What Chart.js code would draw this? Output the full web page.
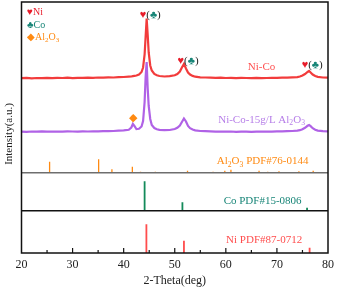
<!DOCTYPE html>
<html>
<head>
<meta charset="utf-8">
<script src="https://cdn.jsdelivr.net/npm/chart.js@4.4.1/dist/chart.umd.min.js"></script>
<style>
  html, body { margin: 0; padding: 0; background: #fff; }
  #wrap { width: 339px; height: 288px; }
</style>
</head>
<body>
<div id="wrap"><canvas id="myChart" width="339" height="288"></canvas></div>
<script>
// 2-theta grid shared by the two measured patterns
var twoTheta = [20,21,22,23,24,25,26,27,28,29,30,31,32,33,34,35,36,37,38,39,40,41,
	41.5,41.8,42.1,42.5,43,43.5,43.8,44.1,44.3,44.5,44.7,44.9,45.2,45.5,46,46.5,47,
	48,49,50,
	50.5,51,51.4,51.8,52.2,52.6,53,53.5,54,
	55,56,57,58,59,60,61,62,63,64,65,66,67,68,69,70,71,72,73,74,
	74.5,75,75.5,76,76.3,76.6,77,77.5,78,
	79,80];

// intensity above each pattern's own baseline (a.u.)
var niCo = [0.3,0.6,0.2,0.5,0.4,0.7,0.3,0.6,0.5,0.8,0.4,0.7,0.6,0.9,0.7,1.0,0.8,1.1,1.0,1.3,1.5,1.8,
	2.0,2.3,2.6,3.0,4.0,6.5,11,24,42,60,44,26,13,8,4.5,3.2,2.5,
	2.0,2.3,3.2,
	4.5,7,11,14.5,10,6,4,2.6,1.8,
	1.2,1.0,0.9,0.6,0.8,0.5,0.7,0.4,0.6,0.5,0.3,0.6,0.4,0.5,0.7,0.6,0.8,0.9,1.1,1.4,
	2.0,3,4.5,6.5,7.5,6,4,2.5,1.6,
	1.0,0.8];

var niCoAl2O3 = [0.4,0.2,0.5,0.3,0.6,0.4,0.3,0.5,0.4,0.6,0.5,0.3,0.6,0.5,0.7,0.6,0.8,0.9,1.0,1.3,1.6,2.2,
	4.5,8,6,3,3.2,5.5,11,30,55,70,44,26,13,7,4,2.8,2.2,
	1.8,2.0,3.0,
	4.2,6.5,10,13.5,10.5,6,3.8,2.5,1.6,
	1.0,0.8,0.6,0.4,0.5,0.3,0.5,0.2,0.4,0.3,0.2,0.4,0.3,0.5,0.4,0.6,0.7,0.8,1.0,1.3,
	1.8,2.8,4.2,6.2,7,5.8,3.8,2.3,1.4,
	0.8,0.6];

// reference cards
var al2o3Pos = [25.5,35.1,37.7,41.7,43.3,46.2,52.5,57.5,59.8,61.0,66.5,68.2,70.4,74.3,77.1];
var al2o3Int = [11,13.5,3.5,6,1,1,2,1,2,3,2,1,1.5,1.5,2];
var coPos = [44.1,51.5,75.9];
var coInt = [29.5,8.5,3];
var niPos = [44.45,51.8,76.4];
var niInt = [28.7,12.3,5.3];

var xTicks = [20,30,40,50,60,70,80];

// vertical stacking (y axis is 0..251)
var base = { niCo: 174.5, niCoAl: 121, al: 80.3, co: 42.3, ni: 0 };

var RED = '#f23c3c', PURPLE = '#b062e6', ORANGE = '#ff8a12', TEAL = '#178577', GREEN = '#138a5a', NIRED = '#ff4d4d';
var SERIF = '"Liberation Serif", "Times New Roman", serif';

function curve(vals, off) {
	return twoTheta.map(function (x, i) { return { x: x, y: vals[i] + off }; });
}
function sticks(pos, ints, off) {
	var d = [];
	pos.forEach(function (p, i) {
		d.push({ x: p, y: off });
		d.push({ x: p, y: off + ints[i] });
		d.push({ x: p, y: null });
	});
	return d;
}

// text placed in data coordinates: [2theta, y, parts, color, align]
// parts: [text, isSubscript, colorOverride]
var notes = [
	[45.2, 238, [['♥', 0, '#e81c2a'], ['(', 0, '#222'], ['♣', 0, TEAL], [')', 0, '#222']], null, 'center'],
	[52.6, 192, [['♥', 0, '#e81c2a'], ['(', 0, '#222'], ['♣', 0, TEAL], [')', 0, '#222']], null, 'center'],
	[76.9, 188, [['♥', 0, '#e81c2a'], ['(', 0, '#222'], ['♣', 0, TEAL], [')', 0, '#222']], null, 'center'],
	[41.8, 135, [['◆', 0, ORANGE]], null, 'center'],
	[67.0, 186, [['Ni-Co', 0]], '#ff5050', 'center'],
	[67.0, 133, [['Ni-Co-15g/L Al', 0], ['2', 1], ['O', 0], ['3', 1]], '#b67ee8', 'center'],
	[67.2, 91.5, [['Al', 0], ['2', 1], ['O', 0], ['3', 1], [' PDF#76-0144', 0]], ORANGE, 'center'],
	[67.2, 52, [['Co PDF#15-0806', 0]], TEAL, 'center'],
	[67.5, 12.5, [['Ni PDF#87-0712', 0]], NIRED, 'center']
];

function partsWidth(ctx, parts, size) {
	var w = 0;
	parts.forEach(function (p) {
		ctx.font = (p[1] ? size * 0.7 : size) + 'px ' + SERIF;
		w += ctx.measureText(p[0]).width;
	});
	return w;
}
function drawParts(ctx, parts, x, y, size, color, align) {
	var w = partsWidth(ctx, parts, size);
	var cx = align === 'center' ? x - w / 2 : x;
	ctx.textBaseline = 'middle';
	ctx.textAlign = 'left';
	parts.forEach(function (p) {
		ctx.font = (p[1] ? size * 0.7 : size) + 'px ' + SERIF;
		ctx.fillStyle = p[2] || color;
		ctx.fillText(p[0], cx, p[1] ? y + size * 0.3 : y);
		cx += ctx.measureText(p[0]).width;
	});
}

var framePlugin = {
	id: 'frame',
	afterDatasetsDraw: function (chart) {
		var ctx = chart.ctx, a = chart.chartArea;
		var xs = chart.scales.x, ys = chart.scales.y;
		ctx.save();
		// panel separators
		ctx.lineWidth = 1.5;
		ctx.strokeStyle = '#6e6e6e';
		ctx.beginPath();
		ctx.moveTo(a.left, ys.getPixelForValue(base.al));
		ctx.lineTo(a.right, ys.getPixelForValue(base.al));
		ctx.stroke();
		ctx.strokeStyle = '#111';
		ctx.beginPath();
		ctx.moveTo(a.left, ys.getPixelForValue(base.co));
		ctx.lineTo(a.right, ys.getPixelForValue(base.co));
		ctx.stroke();
		// frame
		ctx.lineWidth = 1.5;
		ctx.strokeRect(a.left, a.top, a.right - a.left, a.bottom - a.top);
		// inward ticks
		ctx.lineWidth = 1.2;
		for (var t = 25; t < 80; t += 5) {
			var px = xs.getPixelForValue(t);
			var len = (t % 10 === 0) ? 5 : 3;
			ctx.beginPath();
			ctx.moveTo(px, a.bottom);
			ctx.lineTo(px, a.bottom - len);
			ctx.stroke();
		}
		// notes
		notes.forEach(function (n) {
			drawParts(ctx, n[2], xs.getPixelForValue(n[0]), ys.getPixelForValue(n[1]), 11, n[3], n[4]);
		});
		// legend
		drawParts(ctx, [['♥', 0], ['Ni', 0]], 27, 12, 10, '#e81c2a', 'left');
		drawParts(ctx, [['♣', 0], ['Co', 0]], 27, 25, 10, TEAL, 'left');
		drawParts(ctx, [['◆', 0], ['Al', 0], ['2', 1], ['O', 0], ['3', 1]], 27, 37, 10, ORANGE, 'left');
		// y title
		ctx.translate(9, 134);
		ctx.rotate(-Math.PI / 2);
		ctx.font = '11px ' + SERIF;
		ctx.fillStyle = '#222';
		ctx.textAlign = 'center';
		ctx.textBaseline = 'middle';
		ctx.fillText('Intensity(a.u.)', 0, 0);
		ctx.restore();
	}
};

var config = {
	type: 'line',
	data: {
		datasets: [
			{ data: curve(niCo, base.niCo), borderColor: RED, borderWidth: 2.2 },
			{ data: curve(niCoAl2O3, base.niCoAl), borderColor: PURPLE, borderWidth: 2.2 },
			{ data: sticks(al2o3Pos, al2o3Int, base.al), borderColor: ORANGE, borderWidth: 1.3 },
			{ data: sticks(coPos, coInt, base.co), borderColor: GREEN, borderWidth: 1.8 },
			{ data: sticks(niPos, niInt, base.ni), borderColor: NIRED, borderWidth: 1.8 }
		]
	},
	options: {
		responsive: false,
		animation: false,
		spanGaps: false,
		elements: { point: { radius: 0 }, line: { tension: 0 } },
		layout: { padding: { top: 2, right: 8, left: 0, bottom: 0 } },
		plugins: { legend: { display: false }, tooltip: { enabled: false } },
		scales: {
			x: {
				type: 'linear',
				min: 20, max: 80,
				afterBuildTicks: function (s) { s.ticks = xTicks.map(function (v) { return { value: v }; }); },
				afterFit: function (s) { s.height = 35; },
				grid: { display: false, drawTicks: false },
				border: { display: false },
				ticks: { padding: 5, color: '#222', font: { family: SERIF, size: 12 }, maxRotation: 0 },
				title: { display: true, text: '2-Theta(deg)', color: '#222', font: { family: SERIF, size: 12 }, padding: { top: 0, bottom: 0 } }
			},
			y: {
				min: 0, max: 251,
				afterFit: function (s) { s.width = 21.5; },
				grid: { display: false, drawTicks: false },
				border: { display: false },
				ticks: { display: false }
			}
		}
	},
	plugins: [framePlugin]
};

var myChart = new Chart(document.getElementById('myChart'), config);
</script>
</body>
</html>
